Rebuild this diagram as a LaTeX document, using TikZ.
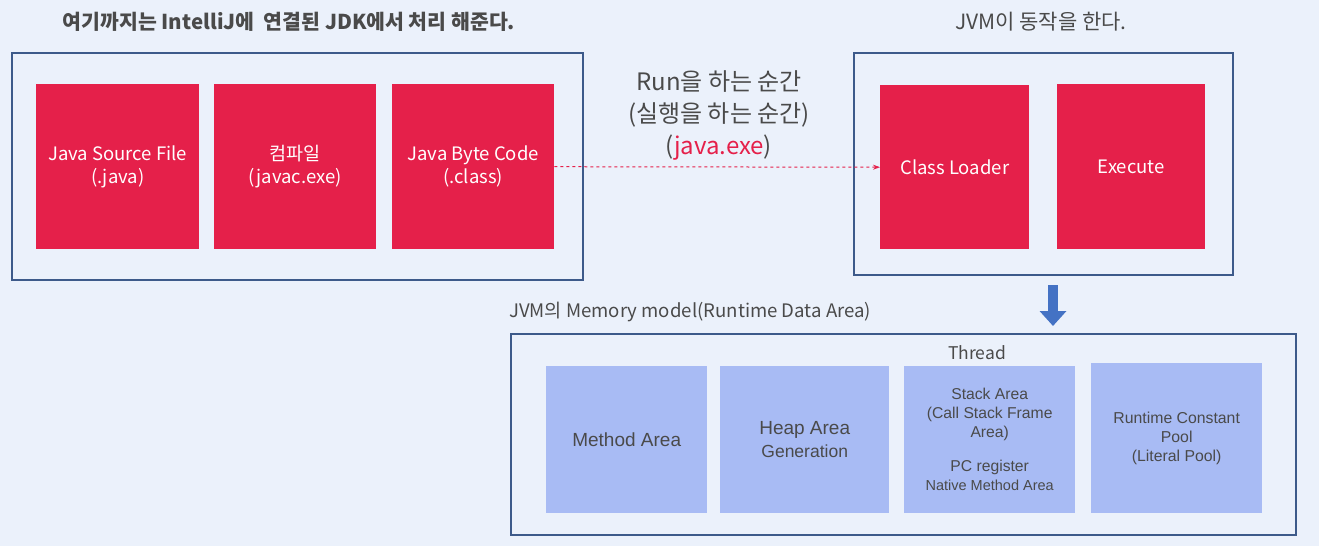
\documentclass[tikz,border=0pt]{standalone}
\usepackage{fontspec}
\setmainfont{Noto Sans CJK KR}
\newfontfamily\arialfont{Liberation Sans}
\usepackage{tikz}
\usepackage{xcolor}
\usetikzlibrary{arrows.meta, calc, positioning}

\definecolor{bgblue}{HTML}{EBF1FB}
\definecolor{frameblue}{HTML}{3D5A8A}
\definecolor{codered}{HTML}{E5204A}
\definecolor{areablue}{HTML}{A8BBF4}
\definecolor{arrowblue}{HTML}{4472C4}
\definecolor{txtgray}{HTML}{4A4A4A}

\begin{document}
\begin{tikzpicture}[x=1pt, y=-1pt,
    frame/.style={draw=frameblue, line width=1.6pt},
    redbox/.style={fill=codered, text=white, anchor=north west, align=center,
        font=\fontsize{18.5}{23}\selectfont, inner sep=0pt},
    areabox/.style={fill=areablue, text=txtgray, anchor=north west, align=center,
        font=\arialfont\fontsize{19}{23}\selectfont, inner sep=0pt},
    caption/.style={text=txtgray, inner sep=0pt}]
                        \useasboundingbox[fill=bgblue] (0,0) rectangle (1319,546);

                        % JDK part
                        \node[caption, font=\bfseries\fontsize{20.5}{24}\selectfont] (jdktitle) at (289,22) {여기까지는 IntelliJ에\ \ 연결된 JDK에서 처리 해준다.};
                        \draw[frame] (12,53) rectangle (583,280);
                        \node[redbox, minimum width=163pt, minimum height=165pt] (source) at (36,84) {Java Source File\\(.java)};
                        \node[redbox, minimum width=162pt, minimum height=165pt] (compile) at (214,84) {컴파일\\(javac.exe)};
                        \node[redbox, minimum width=162pt, minimum height=165pt] (bytecode) at (392,84) {Java Byte Code\\(.class)};

                        % run
                        \node[caption, align=center, font=\fontsize{24}{32}\selectfont] (run) at (719,115) {Run을 하는 순간\\(실행을 하는 순간)\\(\textcolor{codered}{java.exe})};

                        % JVM part
                        \node[caption, font=\fontsize{21}{24}\selectfont] (jvmtitle) at (1041,22) {JVM이 동작을 한다.};
                        \draw[frame] (854,53) rectangle (1233,275);
                        \node[redbox, minimum width=149pt, minimum height=164pt] (loader) at (880,85) {Class Loader};
                        \node[redbox, minimum width=148pt, minimum height=165pt] (execute) at (1057,84) {Execute};

                        \draw[codered, dashed, line width=1pt, -{Stealth[length=7pt, width=5pt]}]
                        (bytecode.east) -- (loader.west);

                        \coordinate (downtop) at (1053,285);
                        \coordinate (downend) at (1053,326);
                        \draw[arrowblue, line width=10pt, -{Triangle[length=15pt, width=26pt]}]
                        (downtop) -- (downend);

                        % memory model
                        \node[caption, anchor=west, font=\fontsize{18.6}{22}\selectfont] (memtitle) at (509,312) {JVM의 Memory model(Runtime Data Area)};
                        \draw[frame] (511,334) rectangle (1296,535);
                        \node[caption, font=\fontsize{17.5}{21}\selectfont] (thread) at (977,353) {Thread};
                        \node[areabox, minimum width=161pt, minimum height=147pt] (method) at (546,366) {Method Area};
                        \node[areabox, minimum width=169pt, minimum height=147pt] (heap) at (720,366) {Heap Area\\{\fontsize{17.5}{23}\selectfont Generation}};
                        \node[areabox, minimum width=171pt, minimum height=147pt, font=\arialfont\fontsize{15.7}{19}\selectfont] (stack) at (904,366)
                        {Stack Area\\(Call Stack Frame\\Area)\\[15pt]PC register\\{\fontsize{14.5}{20}\selectfont Native Method Area}};
                        \node[areabox, minimum width=171pt, minimum height=150pt, font=\arialfont\fontsize{15.8}{19}\selectfont] (pool) at (1091,363) {Runtime Constant\\Pool\\(Literal Pool)};
                    \end{tikzpicture}
\end{document}
